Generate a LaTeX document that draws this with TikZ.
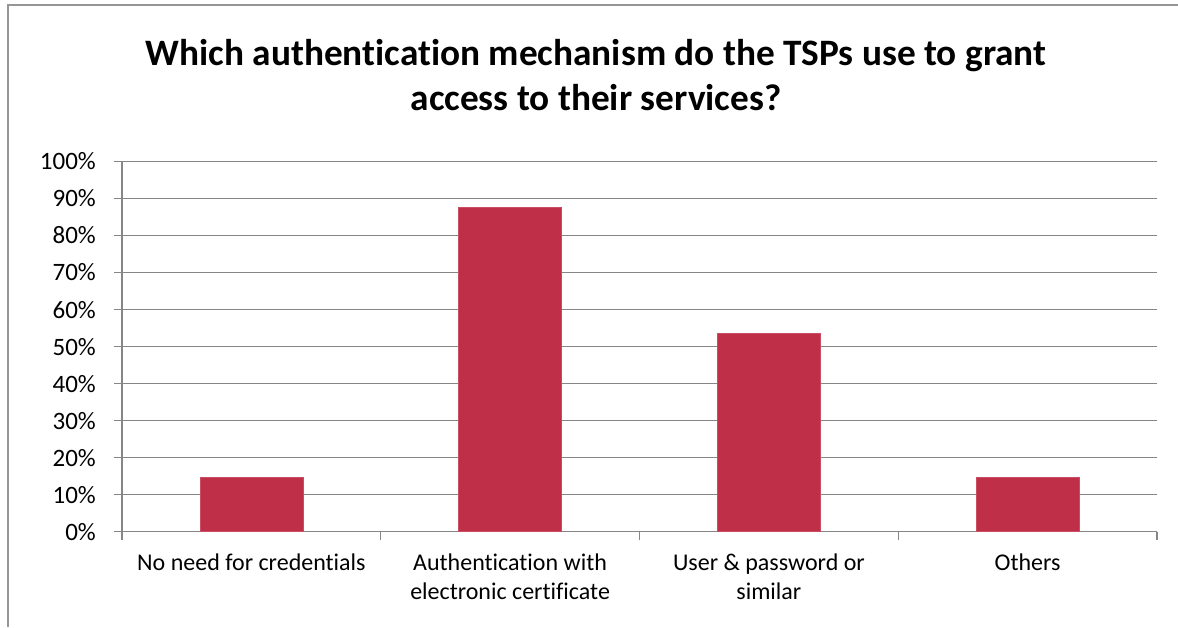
\documentclass[tikz,border=0pt]{standalone}
\usepackage{fontspec}
\setmainfont{Carlito}[Ligatures=NoCommon]
\definecolor{barred}{RGB}{192,47,72}
\definecolor{gridgray}{RGB}{134,134,134}
\definecolor{framegray}{RGB}{150,150,150}
\begin{document}
\begin{tikzpicture}[x=1pt,y=-1pt,
  grid/.style={draw=gridgray,line width=1.2pt},
  barbox/.style={fill=barred,draw=barred!85!white,line width=0.6pt},
  ticklabel/.style={anchor=east,inner sep=0pt,font=\fontsize{25}{28}\selectfont},
  catlabel/.style={anchor=north,inner sep=0pt,align=center,font=\fontsize{24}{29}\selectfont},
  titletext/.style={align=center,inner sep=0pt,font=\bfseries\fontsize{37.3}{45}\selectfont}]
\useasboundingbox (0,0) rectangle (1178,627);
\fill[white] (0,0) rectangle (1178,627);
% frame
\draw[framegray,line width=2pt] (7.5,627) -- (7.5,5) -- (1178,5);
% title
\node[titletext] (title) at (596,75) {Which authentication mechanism do the TSPs use to grant\\access to their services?};
% gridlines and y labels
\foreach \i in {0,...,10}{
  \pgfmathsetmacro{\yy}{531.7-37.02*\i}
  \draw[grid] (114,\yy) -- (1157,\yy);
  \pgfmathtruncatemacro{\pc}{10*\i}
  \node[ticklabel] (y\i) at (96,\yy) {\pc\%};
}
% y axis
\draw[grid] (122,161.5) -- (122,540);
% category ticks
\foreach \k in {1,2,3,4}{
  \pgfmathsetmacro{\xx}{122+258.75*\k}
  \draw[grid] (\xx,531.7) -- (\xx,540);
}
% bars
\node[barbox,minimum width=103pt,minimum height=54pt,inner sep=0pt,anchor=south] (b1) at (251.4,531.7) {};
\node[barbox,minimum width=103pt,minimum height=324.5pt,inner sep=0pt,anchor=south] (b2) at (510.1,531.7) {};
\node[barbox,minimum width=103pt,minimum height=198.5pt,inner sep=0pt,anchor=south] (b3) at (768.9,531.7) {};
\node[barbox,minimum width=103pt,minimum height=54pt,inner sep=0pt,anchor=south] (b4) at (1027.6,531.7) {};
% category labels
\node[catlabel] (c1) at (251.4,554) {No need for credentials};
\node[catlabel] (c2) at (510.1,554) {Authentication with\\electronic certificate};
\node[catlabel] (c3) at (768.9,554) {User \& password or\\similar};
\node[catlabel] (c4) at (1027.6,554) {Others};
\end{tikzpicture}
\end{document}
